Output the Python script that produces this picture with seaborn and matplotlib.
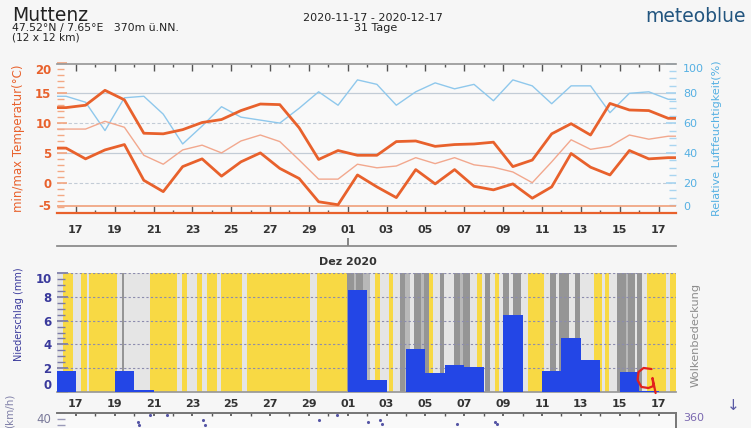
import numpy as np
import pandas as pd
import seaborn as sns
import matplotlib.pyplot as plt
from matplotlib.ticker import MultipleLocator

# daily values Nov 16 .. Dec 17 2020 (day 0 = Nov 17)
days = np.arange(-1, 31)
temp_max = [12.6, 13.0, 15.5, 13.9, 8.3, 8.2, 8.9, 10.1, 10.6, 12.1, 13.2,
            13.1, 9.2, 3.9, 5.4, 4.6, 4.6, 6.9, 7.0, 6.1, 6.4, 6.5,
            6.8, 2.7, 3.8, 8.2, 9.9, 8.0, 13.3, 12.2, 12.1, 10.8]
temp_min = [5.8, 4.0, 5.5, 6.4, 0.4, -1.5, 2.7, 4.0, 1.1, 3.5, 5.0,
            2.4, 0.7, -3.2, -3.7, 1.3, -0.7, -2.5, 2.2, -0.2, 2.2, -0.6,
            -1.2, -0.2, -2.6, -0.7, 4.9, 2.6, 1.3, 5.4, 4.0, 4.2]
temp_mean = [9.0, 9.0, 10.3, 9.3, 4.6, 3.1, 5.5, 6.3, 5.0, 7.0, 8.0,
             6.9, 3.8, 0.6, 0.6, 3.1, 2.5, 2.8, 4.2, 3.2, 4.2, 3.0,
             2.6, 1.8, 0.0, 3.5, 7.2, 5.6, 6.1, 8.0, 7.3, 7.8]
humidity = [78, 74, 55, 77, 78, 66, 46, 58, 71, 64, 62,
            60, 70, 81, 72, 89, 86, 72, 81, 87, 83, 86,
            75, 89, 85, 73, 85, 85, 67, 80, 81, 76]
precip = [1.8, 0, 0, 1.8, 0.2, 0, 0, 0, 0, 0, 0, 0, 0, 0, 0,
          8.6, 1.0, 0, 3.6, 1.6, 2.3, 2.1, 0, 6.5, 0, 1.8, 4.5, 2.7, 0, 1.7, 0.1, 0]

# cloud cover stripes: start day and class (y clear, l light, m medium, d dark)
cloud_start = [-1.0, -0.65, -0.17, 0.29, 0.55, 0.69, 2.1, 2.4, 2.46, 3.81,
               5.19, 5.45, 5.7, 6.22, 6.48, 6.74, 7.25, 7.46, 8.54, 8.8,
               12.06, 12.44, 13.95, 14.3, 14.45, 14.8, 15.15, 15.4, 15.67, 16.1,
               16.32, 16.7, 16.95, 17.2, 17.4, 17.75, 17.9, 18.2, 18.4, 18.76,
               18.93, 19.45, 19.8, 19.95, 20.3, 20.65, 20.9, 21.05, 21.34, 21.6,
               21.77, 21.98, 22.28, 22.5, 22.9, 23.3, 24.1, 24.4, 24.7, 24.9,
               25.38, 25.7, 25.98, 26.67, 27.1, 27.27, 27.44, 27.87, 28.3, 28.45,
               28.8, 28.9, 29.16, 29.4, 30.36, 30.6]
cloud_code = ("lylylyldly" "lylylylyly" "lydmdmlyly" "ldmldmdyld"
              "ldmdlyldly" "ldldlyldld" "ldlylyldmd" "ldlyly")

wind_dir_day = [3.2, 3.25, 3.8, 4.7, 6.55, 6.65, 12.5, 13.45, 15.05, 15.67, 15.76, 19.6, 21.6, 21.7]
wind_dir = [335, 325, 355, 355, 340, 325, 340, 355, 335, 340, 328, 328, 335, 328]

# red hand-drawn mark on the screenshot (day, mm)
scribble_day = [29.64, 29.23, 28.97, 28.92, 29.12, 29.48, 29.74, 29.69, 29.85]
scribble_mm = [1.94, 2.03, 1.69, 1.02, 0.44, 0.35, 0.52, 1.19, -0.07]

tick_days = np.arange(0, 31, 2)
tick_labels = ['17', '19', '21', '23', '25', '27', '29', '01',
               '03', '05', '07', '09', '11', '13', '15', '17']

ORANGE = '#e8612c'
SALMON = '#f2a88e'
SKY = '#8fc8ec'
SKY_TXT = '#55b0e3'
NAVY = '#3a3a9c'
BAR = '#2346e6'
BG = '#f6f6f6'
CLOUD_COLORS = {'y': '#f8d944', 'l': '#e5e5e5', 'm': '#b8b8b8', 'd': '#959595'}

sns.set_theme(style='white')
plt.rcParams['font.family'] = ['DejaVu Sans']

W, H = 751, 428
XLIM = (-0.97, 30.9)


def box(left, top, right, bottom):
    return [left / W, 1 - bottom / H, (right - left) / W, (bottom - top) / H]


fig = plt.figure(figsize=(7.51, 4.28), dpi=100)
fig.patch.set_facecolor(BG)

# ---------- temperature / humidity ----------
ax_t = fig.add_axes(box(57, 63.5, 676, 212.5))
ax_h = ax_t.twinx()
ax_t.set_zorder(ax_h.get_zorder() + 1)
ax_t.patch.set_visible(False)
ax_h.patch.set_visible(True)
ax_h.patch.set_facecolor('#f9f9f9')

xs = np.concatenate([[XLIM[0]], days + 0.5, [XLIM[1]]])
df = pd.DataFrame({
    'x': xs,
    'tmax': np.pad(np.asarray(temp_max, float), 1, mode='edge'),
    'tmin': np.pad(np.asarray(temp_min, float), 1, mode='edge'),
    'tmean': np.pad(np.asarray(temp_mean, float), 1, mode='edge'),
    'hum': np.pad(np.asarray(humidity, float), 1, mode='edge'),
})

for h in [20, 60]:
    ax_h.axhline(h, color='#c3ccd6', lw=0.8, ls=(0, (3, 2)), zorder=0)
for h in [40, 80]:
    ax_h.axhline(h, color='#c3ccd6', lw=0.9, zorder=0)
sns.lineplot(data=df, x='x', y='hum', ax=ax_h, color=SKY, lw=1.0)
ax_t.axhline(-3.9, color='#f0a07a', lw=1.2)
sns.lineplot(data=df, x='x', y='tmean', ax=ax_t, color=SALMON, lw=1.0)
sns.lineplot(data=df, x='x', y='tmax', ax=ax_t, color=ORANGE, lw=2.0)
sns.lineplot(data=df, x='x', y='tmin', ax=ax_t, color=ORANGE, lw=2.0)

ax_t.set_xlim(XLIM)
ax_t.set_ylim(-5, 20)
ax_h.set_ylim(0, 100)
ax_t.set_xticks(tick_days)
ax_t.set_xticklabels(tick_labels, fontsize=8, fontweight='bold', color='#333333')
ax_t.xaxis.set_minor_locator(MultipleLocator(1))
ax_t.tick_params(axis='x', which='both', direction='in', top=True, bottom=True,
                 color='#555555', pad=9)
ax_t.tick_params(axis='x', which='major', length=5, width=1)
ax_t.tick_params(axis='x', which='minor', length=2.5, width=1)

ax_t.set_yticks([-5, 0, 5, 10, 15, 20])
ax_t.set_yticklabels(['-5', '0', '5', '10', '15', '20'], fontsize=8.5,
                     fontweight='bold', color=ORANGE)
ax_t.yaxis.set_minor_locator(MultipleLocator(1))
ax_t.tick_params(axis='y', which='both', direction='in', left=True, right=False,
                 color='#f3a884', pad=4)
ax_t.tick_params(axis='y', which='major', length=7)
ax_t.tick_params(axis='y', which='minor', length=5)

ax_h.set_yticks([0, 20, 40, 60, 80, 100])
ax_h.set_yticklabels(['0', '20', '40', '60', '80', '100'], fontsize=8, color=SKY_TXT)
ax_h.yaxis.set_minor_locator(MultipleLocator(5))
ax_h.tick_params(axis='y', which='both', direction='in', right=True, left=False,
                 color='#a9d5f0', pad=5)
ax_h.tick_params(axis='y', which='major', length=7)
ax_h.tick_params(axis='y', which='minor', length=5)

# keep end labels inside the panel
for ax in (ax_t, ax_h):
    lbls = ax.get_yticklabels()
    lbls[0].set_va('bottom')
    lbls[-1].set_va('top')

ax_t.set_xlabel('')
ax_t.set_ylabel('min/max Temperatur(°C)', color=ORANGE, fontsize=8.5)
ax_t.yaxis.set_label_coords(-0.051, 0.5)
ax_h.set_ylabel('Relative Luftfeuchtigkeit(%)', color=SKY_TXT, fontsize=8, rotation=90)
ax_h.yaxis.set_label_coords(1.058, 0.5)

for s in ax_h.spines.values():
    s.set_visible(False)
ax_t.spines['top'].set_color('#999999')
ax_t.spines['bottom'].set_color(ORANGE)
ax_t.spines['bottom'].set_linewidth(1.6)
ax_t.spines['left'].set_visible(False)
ax_t.spines['right'].set_visible(False)

# ---------- month separator ----------
ax_m = fig.add_axes(box(57, 246, 676, 256))
ax_m.set_xlim(XLIM)
ax_m.set_yticks([])
ax_m.set_xticks([14])
ax_m.tick_params(axis='x', top=True, bottom=False, labelbottom=False,
                 direction='out', length=6, color='#777777')
ax_m.patch.set_visible(False)
for k, s in ax_m.spines.items():
    s.set_visible(k == 'top')
ax_m.spines['top'].set_color('#888888')
ax_m.text(14, -0.6, 'Dez 2020', transform=ax_m.get_xaxis_transform(),
          ha='center', va='center', fontsize=8, fontweight='bold', color='#333333')

# ---------- precipitation / clouds ----------
ax_b = fig.add_axes(box(57, 272.8, 676, 392.2))
edges = np.array(cloud_start + [XLIM[1]])
ax_b.bar(cloud_start, 10, width=np.diff(edges), align='edge',
         color=[CLOUD_COLORS[c] for c in cloud_code], linewidth=0, zorder=0)
for v in [2, 4, 6, 8, 10]:
    ax_b.axhline(v, color='#8c8cae', lw=0.8, ls=(0, (2, 2)), zorder=1)
ax_b.bar(days, precip, width=1, align='edge', color=BAR, linewidth=0, zorder=3)
ax_b.plot(scribble_day, scribble_mm, color='#e3211c', lw=1.6, zorder=5, clip_on=False,
          solid_capstyle='round', solid_joinstyle='round')

ax_b.set_xlim(XLIM)
ax_b.set_ylim(0, 10)
ax_b.set_xticks(tick_days)
ax_b.set_xticklabels(tick_labels, fontsize=8, fontweight='bold', color='#333333')
ax_b.tick_params(axis='x', length=0, pad=5)
ax_b.set_yticks([0, 2, 4, 6, 8, 10])
ax_b.set_yticklabels(['0', '2', '4', '6', '8', '10'], fontsize=8.5,
                     fontweight='bold', color=NAVY)
ax_b.yaxis.set_minor_locator(MultipleLocator(0.5))
ax_b.tick_params(axis='y', which='both', direction='in', left=True, color='#7a7aa8', pad=4)
ax_b.tick_params(axis='y', which='major', length=8)
ax_b.tick_params(axis='y', which='minor', length=6)
lbls = ax_b.get_yticklabels()
lbls[0].set_va('bottom')
lbls[-1].set_va('top')
ax_b.set_ylabel('Niederschlag (mm)', color=NAVY, fontsize=7)
ax_b.yaxis.set_label_coords(-0.054, 0.65)
for k, s in ax_b.spines.items():
    s.set_visible(k == 'bottom')
ax_b.spines['bottom'].set_color('#999999')
fig.text(696 / W, 1 - 335 / H, 'Wolkenbedeckung', rotation=90, ha='center',
         va='center', fontsize=8.2, color='#8c8c8c')

# ---------- wind (cut off at bottom) ----------
ax_w = fig.add_axes(box(57, 413.3, 676, 533.3))
ax_w.patch.set_facecolor('#f9f9f9')
ax_w.set_xlim(XLIM)
ax_w.set_ylim(0, 40)
ax_w.set_xticks(tick_days)
ax_w.xaxis.set_minor_locator(MultipleLocator(1))
ax_w.tick_params(axis='x', which='both', direction='in', top=True, bottom=False,
                 labelbottom=False, color='#555555', length=2.5)
ax_w.set_yticks([40])
ax_w.set_yticklabels(['40'], fontsize=8.5, color='#7a7a9a')
ax_w.get_yticklabels()[0].set_va('top')
ax_w.yaxis.set_minor_locator(MultipleLocator(2))
ax_w.tick_params(axis='y', which='both', direction='in', color='#9a9ab8', length=6, pad=4)
ax_w2 = ax_w.twinx()
sns.scatterplot(x=wind_dir_day, y=wind_dir, ax=ax_w2, color='#5555a5', s=5, linewidth=0)
ax_w2.set_ylim(0, 360)
ax_w2.set_yticks([360])
ax_w2.set_yticklabels(['360'], fontsize=8, color='#7a68b0')
ax_w2.get_yticklabels()[0].set_va('top')
ax_w2.tick_params(axis='y', direction='in', length=0, pad=5)
for ax in (ax_w, ax_w2):
    for k, s in ax.spines.items():
        s.set_visible(k in ('top', 'right'))
        s.set_color('#777777')
fig.text(10 / W, 1 - 411 / H, '(km/h)', rotation=90, ha='center',
         va='center', fontsize=7.5, color='#8080a8')
fig.text(733 / W, 1 - 405 / H, '\u2193', ha='center', va='center', fontsize=11,
         color='#5a5aa5')

# ---------- header ----------
fig.text(12 / W, 1 - 20.7 / H, 'Muttenz', fontsize=13.5, color='#222222', va='baseline')
fig.text(12 / W, 1 - 31 / H, '47.52°N / 7.65°E   370m ü.NN.', fontsize=7.8,
         color='#222222', va='baseline')
fig.text(12 / W, 1 - 41 / H, '(12 x 12 km)', fontsize=7.6, color='#222222', va='baseline')
fig.text(373 / W, 1 - 20.7 / H, '2020-11-17 - 2020-12-17', fontsize=8, ha='center',
         color='#222222', va='baseline')
fig.text(376 / W, 1 - 31 / H, '31 Tage', fontsize=8, ha='center', color='#222222',
         va='baseline')
fig.text(746 / W, 1 - 21.7 / H, 'meteoblue', fontsize=13.5, ha='right', color='#22557f',
         va='baseline')

fig.savefig('out.png', dpi=100, facecolor=BG)
